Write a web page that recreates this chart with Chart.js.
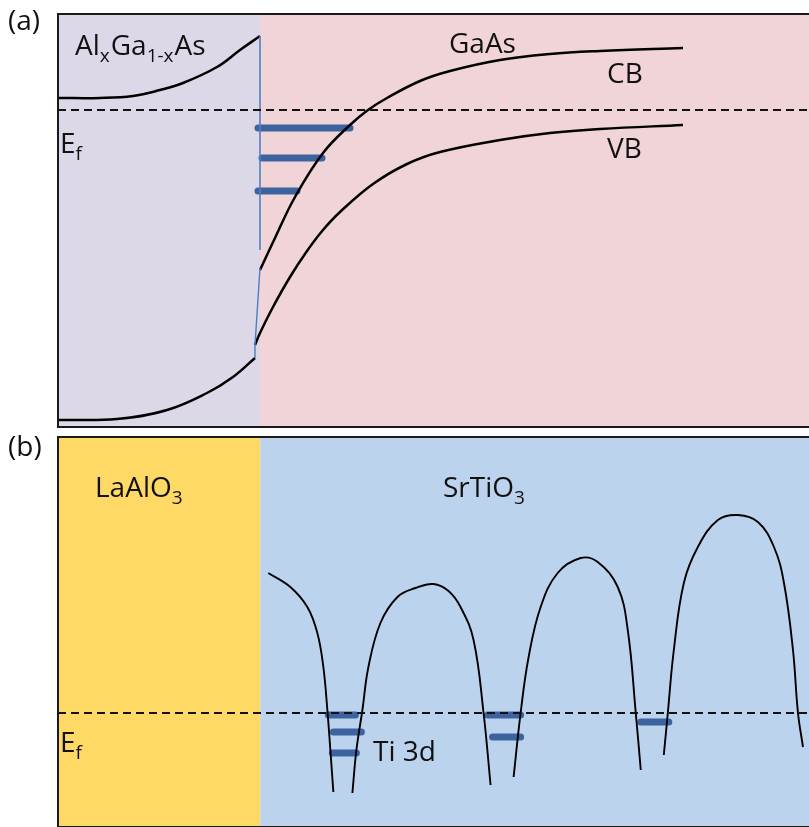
<!DOCTYPE html>
<html>
<head>
<meta charset="utf-8">
<script src="https://cdn.jsdelivr.net/npm/chart.js@4.4.1/dist/chart.umd.min.js"></script>
<style>
  body { margin: 0; background: #fff; }
  canvas { position: absolute; left: 0; }
  #bandA { top: 0; }
  #bandB { top: 432px; }
</style>
</head>
<body>
<canvas id="bandA" width="809" height="432"></canvas>
<canvas id="bandB" width="809" height="395"></canvas>
<script>
// Position (x) and energy (y) in arbitrary units, interface at x = 202

// (a) AlGaAs / GaAs heterojunction
const interfaceX = 202;
const fermiA = 317;
const algaasCB = [[0,329],[42,329],[75,331],[102,337],[125,344],[159,360],[182,377],[202,391]];
const algaasVB = [[0,7],[59,8],[109,17],[149,34],[175,50],[197,69]];
const gaasCB = [[202,157],[217,189],[237,230],[265,274],[292,302],[310,317],[329,329],
                [362,346],[392,356],[442,367],[492,373],[542,376],[625,379]];
const gaasVB = [[197,82],[202,94],[215,120],[232,150],[249,176],[265,197],[282,215],
                [315,243],[349,263],[382,275],[442,287],[492,294],[542,298],[625,302]];
const offsetLine = [[202,391],[202,177]];
const offsetLineLow = [[202,159],[197,82],[197,69]];
// 2DEG subband levels: [start, end, energy]
const subbandsA = [[200,292,299],[204,264,269],[200,239,236]];

// (b) LaAlO3 / SrTiO3
const fermiB = 114;
const stoWell1 = [[210,254],[232,240],[249,220],[259,194],[265,160],[269,117],[272,77],[275,35]];
const stoWell2 = [[294,34],[298,77],[304,117],[310,160],[322,204],[339,230],[357,239],[375,243],
                  [390,236],[402,220],[415,187],[425,114],[432,42]];
const stoWell3 = [[455,50],[462,114],[470,170],[482,220],[499,254],[522,269],[539,265],[559,240],
                  [569,197],[577,114],[582,57]];
const stoWell4 = [[605,72],[609,114],[615,177],[625,244],[639,280],[659,307],[679,312],[699,305],
                  [715,280],[725,244],[734,177],[739,114],[744,80]];
const ti3dLevels = [[270,297,112],[275,303,95],[274,298,74],[429,462,112],[434,462,90],[582,610,105]];

const FONT = '"Open Sans", "Liberation Sans", sans-serif';

const pts = arr => arr.map(p => ({x: p[0], y: p[1]}));

function curve(arr, color, width) {
  return {
    data: pts(arr), showLine: true, borderColor: color, borderWidth: width,
    pointRadius: 0, tension: 0.4, fill: false
  };
}

function straight(arr, color, width, extra) {
  return Object.assign({
    data: pts(arr), showLine: true, borderColor: color, borderWidth: width,
    pointRadius: 0, tension: 0, fill: false
  }, extra || {});
}

// each level drawn as a wide lighter bar with a dark core
function levelSets(levels) {
  const out = [];
  levels.forEach(l => {
    const seg = [[l[0], l[2]], [l[1], l[2]]];
    out.push(straight(seg, '#3c63a0', 7, {borderCapStyle: 'round'}));
    out.push(straight(seg, '#1d3b6c', 2, {borderCapStyle: 'round'}));
  });
  return out;
}

function fermi(y) {
  return straight([[0, y], [760, y]], '#111', 2, {borderDash: [8, 5]});
}

// text with optional subscripts: parts = [[text, isSub], ...]
function drawRich(ctx, x, y, parts) {
  parts.forEach(p => {
    ctx.font = (p[1] ? '19px ' : '28px ') + FONT;
    ctx.fillText(p[0], x, p[1] ? y + 7 : y);
    x += ctx.measureText(p[0]).width + (p[1] ? 1 : 0);
  });
}

function panelPlugin(leftColor, rightColor, labels) {
  return {
    id: 'panel',
    beforeDatasetsDraw(chart) {
      const {ctx, chartArea: a, scales: {x}} = chart;
      const xi = x.getPixelForValue(interfaceX);
      ctx.save();
      ctx.fillStyle = leftColor;
      ctx.fillRect(a.left, a.top, xi - a.left, a.bottom - a.top);
      ctx.fillStyle = rightColor;
      ctx.fillRect(xi, a.top, a.right - xi + 2, a.bottom - a.top);
      ctx.restore();
    },
    afterDatasetsDraw(chart) {
      const {ctx, chartArea: a} = chart;
      ctx.save();
      ctx.strokeStyle = '#1a1a1a';
      ctx.lineWidth = 2;
      ctx.strokeRect(a.left, a.top, a.right - a.left + 4, a.bottom - a.top);
      ctx.fillStyle = '#111';
      ctx.textBaseline = 'alphabetic';
      labels.forEach(l => drawRich(ctx, l[0], l[1], l[2]));
      ctx.restore();
    }
  };
}

function bandChart(id, datasets, yMax, padding, plugin) {
  return new Chart(document.getElementById(id), {
    type: 'scatter',
    data: {datasets: datasets},
    options: {
      responsive: false,
      animation: false,
      layout: {padding: padding},
      plugins: {legend: {display: false}, tooltip: {enabled: false}},
      scales: {
        x: {type: 'linear', min: 0, max: 750, display: false},
        y: {type: 'linear', min: 0, max: yMax, display: false}
      }
    },
    plugins: [plugin]
  });
}

bandChart('bandA', [
  fermi(fermiA),
  straight(offsetLine, '#4f7fc0', 1.6),
  straight(offsetLineLow, '#4f7fc0', 1.4),
  curve(algaasCB, '#000', 2.5),
  curve(algaasVB, '#000', 2.5),
  curve(gaasCB, '#000', 2.5),
  curve(gaasVB, '#000', 2.5)
].concat(levelSets(subbandsA)), 413, {left: 58, right: 1, top: 14, bottom: 5},
panelPlugin('#dcd8e7', '#f0d4d7', [
  [8, 30, [['(a)', false]]],
  [75, 55, [['Al', false], ['x', true], ['Ga', false], ['1-x', true], ['As', false]]],
  [449, 53, [['GaAs', false]]],
  [607, 83, [['CB', false]]],
  [60, 153, [['E', false], ['f', true]]],
  [607, 158, [['VB', false]]]
]));

bandChart('bandB', [
  fermi(fermiB),
  curve(stoWell1, '#000', 1.9),
  curve(stoWell2, '#000', 1.9),
  curve(stoWell3, '#000', 1.9),
  curve(stoWell4, '#000', 1.9)
].concat(levelSets(ti3dLevels)), 390, {left: 58, right: 0, top: 5, bottom: 0},
panelPlugin('#fed966', '#bcd3ed', [
  [8, 24, [['(b)', false]]],
  [95, 65, [['LaAlO', false], ['3', true]]],
  [443, 65, [['SrTiO', false], ['3', true]]],
  [60, 320, [['E', false], ['f', true]]],
  [373, 329, [['Ti 3d', false]]]
]));
</script>
</body>
</html>
